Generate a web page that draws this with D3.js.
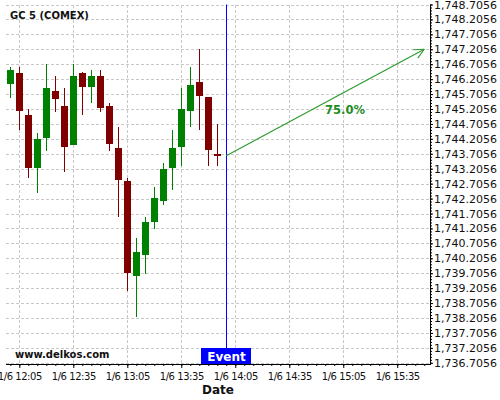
<!DOCTYPE html>
<html><head><meta charset="utf-8">
<script src="https://cdn.jsdelivr.net/npm/d3@7"></script>
<style>body{margin:0;background:#fff;} svg{display:block;font-family:"DejaVu Sans",sans-serif;}</style>
</head><body><svg id="c" width="500" height="400"></svg>
<script>
const title = "GC 5 (COMEX)";
const times = ["12:00","12:05","12:10","12:15","12:20","12:25","12:30","12:35","12:40","12:45","12:50","12:55",
               "13:00","13:05","13:10","13:15","13:20","13:25","13:30","13:35","13:40","13:45","13:50","13:55"];
const open  = [1746.03,1746.42,1745.02,1743.22,1744.22,1745.82,1745.32,1744.01,1746.42,1745.93,1746.32,1745.32,
               1743.91,1742.81,1739.62,1740.32,1741.42,1742.12,1743.22,1743.92,1745.13,1746.12,1745.62,1743.71];
const high  = [1746.61,1746.61,1745.21,1744.40,1746.71,1746.32,1745.91,1746.71,1746.43,1746.51,1746.51,1745.41,
               1744.60,1742.90,1740.90,1741.60,1742.61,1743.40,1744.50,1745.91,1746.61,1747.22,1745.62,1744.70];
const low   = [1745.59,1744.50,1742.90,1742.40,1743.80,1745.11,1743.09,1744.00,1745.01,1745.41,1745.11,1743.80,
               1741.60,1739.10,1738.23,1739.68,1741.20,1742.00,1742.50,1743.31,1744.60,1744.50,1743.30,1743.30];
const close = [1746.52,1745.13,1743.22,1744.21,1745.92,1745.53,1743.92,1746.32,1745.93,1746.32,1745.23,1744.02,
               1742.82,1739.72,1740.41,1741.41,1742.21,1743.21,1743.91,1745.21,1746.02,1745.63,1743.82,1743.62];
const xTickTimes = ["12:05","12:35","13:05","13:35","14:05","14:35","15:05","15:35"];
const yTickValues = [1736.7056,1737.2056,1737.7056,1738.2056,1738.7056,1739.2056,1739.7056,1740.2056,1740.7056,
                     1741.2056,1741.7056,1742.2056,1742.7056,1743.2056,1743.7056,1744.2056,1744.7056,1745.2056,
                     1745.7056,1746.2056,1746.7056,1747.2056,1747.7056,1748.2056,1748.7056];
const xDomain = ["11:57:36","15:53:12"];
const yDomain = [1736.6656, 1748.7056];
const eventTime = "14:00";
const eventLabel = "Event";
const eventValue = 1743.64;
const targetTime = "15:50";
const targetValue = 1747.2056;
const probabilityLabel = "75.0%";
const watermark = "www.delkos.com";
const xTitle = "Date";

const parse = s => { const p = s.split(":").map(Number); return new Date(2021,0,6,p[0],p[1],p[2]||0); };
const W=500,H=400, L=6, R=430, T=4.5, B=364;
const svg = d3.select("#c");
const x = d3.scaleTime().domain(xDomain.map(parse)).range([L,R]);
const y = d3.scaleLinear().domain(yDomain).range([B,T]);
const gridColor = "#c8c8c8";

// grid
const grid = svg.append("g").attr("shape-rendering","crispEdges");
grid.selectAll(".hg").data(yTickValues).enter().append("line")
  .attr("x1",L).attr("x2",R).attr("y1",d=>Math.round(y(d))+0.5).attr("y2",d=>Math.round(y(d))+0.5)
  .attr("stroke",gridColor).attr("stroke-dasharray","3,2");
grid.selectAll(".vg").data(xTickTimes.map(parse)).enter().append("line")
  .attr("x1",d=>Math.round(x(d))+0.5).attr("x2",d=>Math.round(x(d))+0.5).attr("y1",T).attr("y2",B)
  .attr("stroke",gridColor).attr("stroke-dasharray","3,2");

// watermark & title
svg.append("text").attr("x",10).attr("y",19).attr("font-size",10).attr("font-weight","bold").attr("fill","#111").text(title);
svg.append("text").attr("x",15).attr("y",357.5).attr("font-size",10).attr("font-weight","bold").attr("fill","#111").text(watermark);

// candles
const data = times.map((t,i)=>({t:parse(t),o:open[i],h:high[i],l:low[i],c:close[i]}));
const cg = svg.append("g").attr("shape-rendering","crispEdges");
data.forEach(d=>{
  const cx = Math.round(x(d.t));
  const col = d.c >= d.o ? "#008000" : "#800000";
  cg.append("rect").attr("x",cx).attr("width",1)
    .attr("y",y(d.h)).attr("height",Math.max(1,y(d.l)-y(d.h))).attr("fill",col);
  const top = y(Math.max(d.o,d.c)), bot = y(Math.min(d.o,d.c));
  cg.append("rect").attr("x",cx-3).attr("width",7)
    .attr("y",top).attr("height",Math.max(2,bot-top)).attr("fill",col);
});

// event line
const ex = Math.round(x(parse(eventTime)))+0.5;
svg.append("line").attr("x1",ex).attr("x2",ex).attr("y1",T).attr("y2",B).attr("stroke","#0000ff").attr("stroke-width",1);

// arrow
const ax1 = x(parse(eventTime)), ay1 = y(eventValue), ax2 = x(parse(targetTime)), ay2 = y(targetValue);
const arrowColor = "#2a9a2a";
svg.append("line").attr("x1",ax1).attr("y1",ay1).attr("x2",ax2).attr("y2",ay2).attr("stroke",arrowColor).attr("stroke-width",1.1);
const ang = Math.atan2(ay2-ay1, ax2-ax1), hl = 11, ha = 0.45;
[ang+Math.PI-ha, ang+Math.PI+ha].forEach(a=>{
  svg.append("line").attr("x1",ax2).attr("y1",ay2).attr("x2",ax2+hl*Math.cos(a)).attr("y2",ay2+hl*Math.sin(a))
    .attr("stroke",arrowColor).attr("stroke-width",1.1);
});
const lf = 0.6;
svg.append("text").attr("x",ax1+(ax2-ax1)*lf).attr("y",ay1+(ay2-ay1)*lf+22.5).attr("text-anchor","middle")
  .attr("font-size",11.5).attr("font-weight","bold").attr("fill","#1e8c1e").text(probabilityLabel);

// axes
const yAxis = svg.append("g").attr("transform",`translate(${R},0)`)
  .call(d3.axisRight(y).tickValues(yTickValues).tickFormat(d3.format(",.4f")).tickSize(3).tickPadding(1));
const minorY = d3.range(0,121).map(i=>yDomain[1]-i*0.1).filter(v=>v>=yDomain[0]);
svg.append("g").attr("transform",`translate(${R},0)`)
  .call(d3.axisRight(y).tickValues(minorY).tickFormat("").tickSize(2)).select(".domain").remove();
const xAxis = svg.append("g").attr("transform",`translate(0,${B})`)
  .call(d3.axisBottom(x).tickValues(xTickTimes.map(parse)).tickFormat(d=>"1/6 "+d3.timeFormat("%H:%M")(d)).tickSize(4).tickPadding(5));
const minorX = d3.timeMinute.every(5).range(parse(xDomain[0]), parse(xDomain[1]));
svg.append("g").attr("transform",`translate(0,${B})`)
  .call(d3.axisBottom(x).tickValues(minorX).tickFormat("").tickSize(2)).select(".domain").remove();
yAxis.selectAll("text").attr("font-size",11).attr("font-family","DejaVu Sans").attr("fill","#111");
xAxis.selectAll("text").attr("font-size",10).attr("letter-spacing","-0.45px").attr("font-family","DejaVu Sans").attr("fill","#111");
yAxis.select(".domain").remove();
xAxis.select(".domain").remove();
svg.append("line").attr("x1",R+0.5).attr("x2",R+0.5).attr("y1",T).attr("y2",B+0.5).attr("stroke","#000").attr("shape-rendering","crispEdges");
svg.append("line").attr("x1",L).attr("x2",R+0.5).attr("y1",B+0.5).attr("y2",B+0.5).attr("stroke","#000").attr("shape-rendering","crispEdges");

// event label box
svg.append("rect").attr("x",ex-25.5).attr("y",B-16).attr("width",50).attr("height",16).attr("fill","#0000ff");
svg.append("text").attr("x",ex).attr("y",B-3.5).attr("text-anchor","middle").attr("font-size",12)
  .attr("font-weight","bold").attr("fill","#fff").text(eventLabel);

// x title
svg.append("text").attr("x",(L+R)/2).attr("y",394).attr("text-anchor","middle").attr("font-size",12)
  .attr("font-weight","bold").attr("fill","#111").text(xTitle);
</script></body></html>
